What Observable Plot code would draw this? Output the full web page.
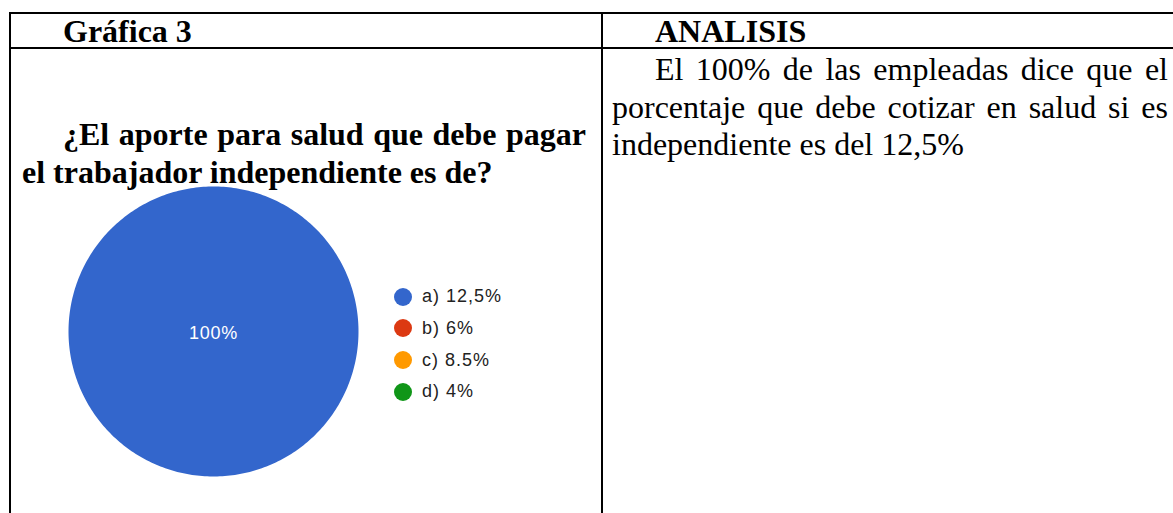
<!DOCTYPE html>
<html><head><meta charset="utf-8">
<script src="https://cdn.jsdelivr.net/npm/d3@7"></script>
<script src="https://cdn.jsdelivr.net/npm/@observablehq/plot@0.6"></script>
<style>
html,body{margin:0;padding:0;background:#fff;}
#page{position:relative;width:1173px;height:513px;overflow:hidden;background:#fff;font-family:"Liberation Serif","Times New Roman",serif;color:#000;}
.ln{position:absolute;background:#000;z-index:2;}
.t{position:absolute;font-size:32px;line-height:32px;white-space:nowrap;}
.b{font-weight:bold;}
.j{text-align:justify;text-align-last:justify;}
#chart{position:absolute;left:0;top:0;}
#chart text{letter-spacing:0.8px;}
.leg{position:absolute;left:394px;top:0;font-family:"Liberation Sans",Arial,sans-serif;font-size:18px;color:#222;letter-spacing:1px;}
.row{position:absolute;left:0;height:20px;display:flex;align-items:center;white-space:nowrap;}
.sw{width:18px;height:18px;border-radius:50%;margin-right:10px;flex:none;}
</style></head>
<body>
<div id="page">
  <div id="chart"></div>
  <div class="ln" style="left:9px;top:12px;width:1164px;height:2px;"></div>
  <div class="ln" style="left:9px;top:47px;width:1164px;height:2px;"></div>
  <div class="ln" style="left:9px;top:12px;width:2px;height:501px;"></div>
  <div class="ln" style="left:601px;top:12px;width:2px;height:501px;"></div>
  <div id="texts"></div>
  <div class="leg" id="legend"></div>
</div>
<script>
// ---- data ----
const headerLeft = "Gráfica 3";
const headerRight = "ANALISIS";
const questionLines = ["¿El aporte para salud que debe pagar", "el trabajador independiente es de?"];
const analysisLines = ["El 100% de las empleadas dice que el", "porcentaje que debe cotizar en salud si es", "independiente es del 12,5%"];
const categories = ["a) 12,5%", "b) 6%", "c) 8.5%", "d) 4%"];
const values = [100, 0, 0, 0];
const colors = ["#3366cc", "#dc3912", "#ff9900", "#109618"];

// ---- text blocks ----
const texts = document.getElementById("texts");
function addText(str, left, baseline, opts = {}) {
  const d = document.createElement("div");
  d.className = "t" + (opts.bold ? " b" : "") + (opts.width ? " j" : "");
  d.textContent = str;
  d.style.left = left + "px";
  d.style.top = (baseline - 26.8) + "px";
  if (opts.width) { d.style.width = opts.width + "px"; d.style.whiteSpace = "normal"; }
  texts.appendChild(d);
}
addText(headerLeft, 63, 42, {bold: true});
addText(headerRight, 655, 42, {bold: true});
addText(questionLines[0], 63, 145, {bold: true, width: 523});
addText(questionLines[1], 22, 183, {bold: true});
addText(analysisLines[0], 655, 80, {width: 513});
addText(analysisLines[1], 612, 118, {width: 556});
addText(analysisLines[2], 612, 155);

// ---- pie via Plot ----
const rows = categories.map((c, i) => ({cat: c, value: values[i]}));
const total = d3.sum(values);
const arcs = d3.pie().sort(null).value(d => d.value)(rows);
const pts = [];
const labels = [];
for (const a of arcs) {
  if (a.value <= 0) continue;
  const span = a.endAngle - a.startAngle;
  const n = Math.max(2, Math.ceil(span / (Math.PI / 180)));
  pts.push({cat: a.data.cat, x: 0, y: 0});
  for (let k = 0; k <= n; k++) {
    const ang = a.startAngle + span * k / n;
    pts.push({cat: a.data.cat, x: Math.sin(ang), y: Math.cos(ang)});
  }
  const full = span >= 2 * Math.PI - 1e-6;
  const mid = (a.startAngle + a.endAngle) / 2;
  labels.push({
    x: full ? 0 : 0.65 * Math.sin(mid),
    y: full ? 0 : 0.65 * Math.cos(mid),
    text: Math.round(a.value / total * 100) + "%"
  });
}

const R = 145, cx = 213, cy = 331, W = 600, H = 513;
const chart = Plot.plot({
  width: W, height: H, margin: 0,
  style: {background: "transparent", overflow: "visible"},
  x: {domain: [-cx / R, (W - cx) / R], axis: null},
  y: {domain: [-(H - cy) / R, cy / R], axis: null},
  color: {domain: categories, range: colors},
  marks: [
    Plot.line(pts, {x: "x", y: "y", z: "cat", fill: "cat", stroke: "none", curve: "linear"}),
    Plot.text(labels, {x: "x", y: "y", text: "text", fill: "white", fontSize: 18, fontFamily: "Liberation Sans, Arial, sans-serif", dy: 2})
  ]
});
document.getElementById("chart").appendChild(chart);

// ---- legend ----
const leg = document.getElementById("legend");
categories.forEach((c, i) => {
  const r = document.createElement("div");
  r.className = "row";
  r.style.top = (296.7 + i * 31.7 - 10) + "px";
  const sw = document.createElement("span");
  sw.className = "sw";
  sw.style.background = colors[i];
  const tx = document.createElement("span");
  tx.textContent = c;
  r.appendChild(sw); r.appendChild(tx);
  leg.appendChild(r);
});
</script>
</body></html>
